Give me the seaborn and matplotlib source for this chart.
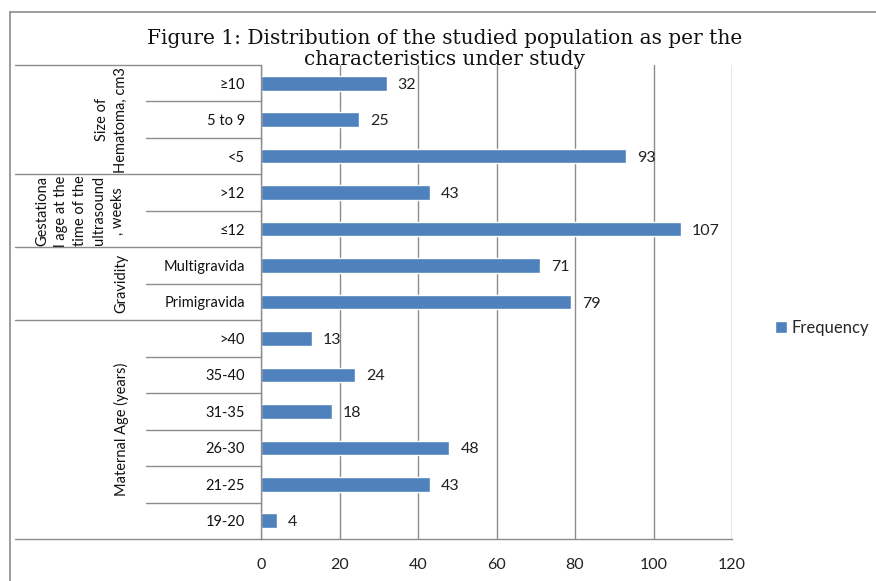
import matplotlib
matplotlib.use("Agg")
import matplotlib.pyplot as plt
from matplotlib.lines import Line2D
import pandas as pd
import seaborn as sns

# data, top to bottom as in the chart
categories = ["≥10", "5 to 9", "<5", ">12", "≤12", "Multigravida", "Primigravida",
              ">40", "35-40", "31-35", "26-30", "21-25", "19-20"]
frequency = [32, 25, 93, 43, 107, 71, 79, 13, 24, 18, 48, 43, 4]
groups = ["Size of\nHematoma, cm3",
          "Gestationa\nl age at the\ntime of the\nultrasound\n, weeks",
          "Gravidity",
          "Maternal Age (years)"]
group_sizes = [3, 2, 2, 6]
x_ticks = [0, 20, 40, 60, 80, 100, 120]

df = pd.DataFrame({"category": categories, "value": frequency, "series": "Frequency"})

sns.set_style("white")
plt.rcParams["font.family"] = ["Lato", "DejaVu Sans"]

BLUE = "#4F81BD"
GRAY = "#8C8C8C"

fig = plt.figure(figsize=(8.76, 5.81), dpi=100)
ax = fig.add_axes([261 / 876, 1 - 539 / 581, 471 / 876, 474 / 581])

sns.barplot(data=df, y="category", x="value", hue="series", palette=[BLUE],
            width=0.4, orient="h", ax=ax, legend=True, saturation=1)

for c in ax.containers:
    for t in ax.bar_label(c, padding=8, fontsize=11.5, color="#222222"):
        t.set_va("center_baseline")

ax.set_xlim(0, 120)
ax.set_ylim(len(categories) - 0.5, -0.5)
ax.set_xticks(x_ticks)
ax.set_xlabel("")
ax.set_ylabel("")
ax.grid(axis="x", color=GRAY, linewidth=1)
ax.set_axisbelow(True)
for s in ["top", "right"]:
    ax.spines[s].set_visible(False)
for s in ["left", "bottom"]:
    ax.spines[s].set_color(GRAY)
    ax.spines[s].set_linewidth(1)
ax.tick_params(axis="x", direction="out", length=4.5, width=1, color=GRAY,
               pad=9, labelsize=11.5, labelcolor="#222222")
ax.tick_params(axis="y", length=0, pad=11.5, labelsize=10.5, labelcolor="#111111")

# table lines on the left (category separators and group separators)
bounds = [-0.5]
for n in group_sizes:
    bounds.append(bounds[-1] + n)
x_long = (15 - 261) / 471
x_short = (146 - 261) / 471
trans = ax.get_yaxis_transform()
for i in range(len(categories) + 1):
    y = i - 0.5
    x0 = x_long if y in bounds else x_short
    ax.plot([x0, 0], [y, y], color=GRAY, linewidth=1, transform=trans, clip_on=False)

# group labels
group_x = [(111 - 261) / 471, (80 - 261) / 471, (121 - 261) / 471, (121 - 261) / 471]
for g, gx, b0, b1 in zip(groups, group_x, bounds[:-1], bounds[1:]):
    ax.text(gx, (b0 + b1) / 2, g, rotation=90, ha="center", va="center",
            multialignment="center", fontsize=10.5, linespacing=1.45,
            color="#111111", transform=trans)

# legend
handles, labels = ax.get_legend_handles_labels()
ax.legend(handles, ["Frequency"], loc="center left",
          bbox_to_anchor=(760 / 876, 1 - 328 / 581), bbox_transform=fig.transFigure,
          frameon=False, handlelength=0.7, handleheight=0.7, handletextpad=0.3,
          fontsize=12)

# title
fig.text(445 / 876, 1 - 49 / 581,
         "Figure 1: Distribution of the studied population as per the\ncharacteristics under study",
         ha="center", va="center", family=["DejaVu Serif"],
         fontsize=14.5, linespacing=1.15, color="#111111")

# outer frame (top and left edges visible)
fig.add_artist(Line2D([10 / 876, 1], [1 - 12 / 581, 1 - 12 / 581], color=GRAY,
                      linewidth=1.2, transform=fig.transFigure))
fig.add_artist(Line2D([10 / 876, 10 / 876], [0, 1 - 12 / 581], color=GRAY,
                      linewidth=1.2, transform=fig.transFigure))

fig.savefig("out.png", dpi=100)
